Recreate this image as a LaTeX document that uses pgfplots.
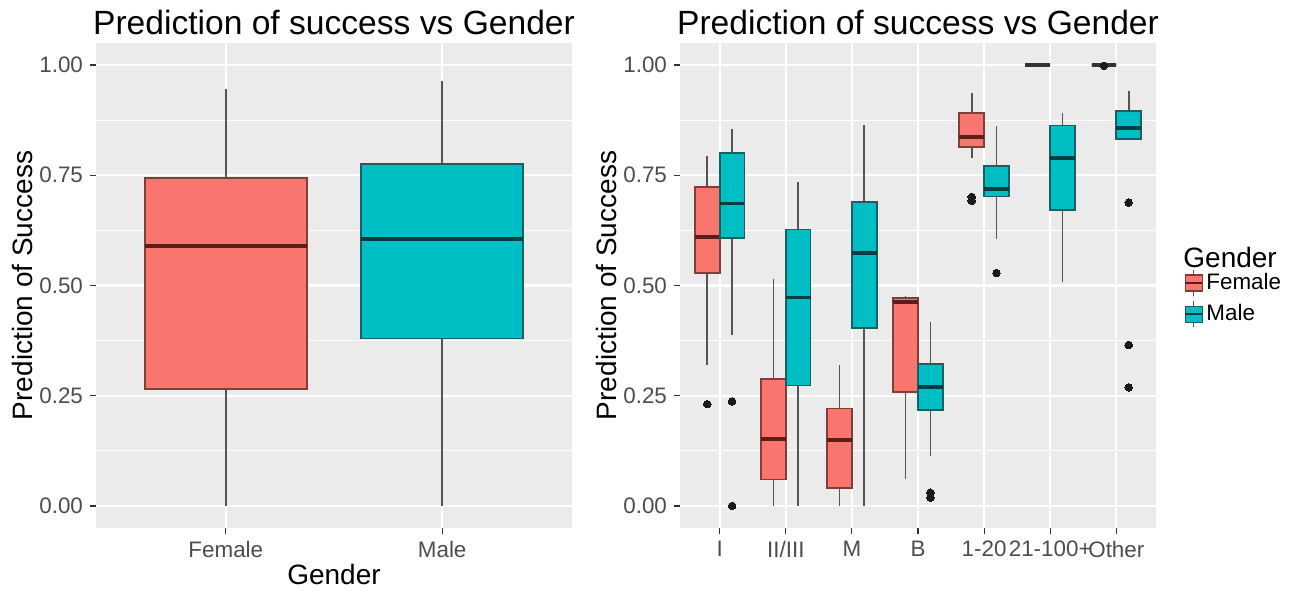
\documentclass[border=0pt]{standalone}
\usepackage{pgfplots}
\pgfplotsset{compat=1.18}
\usepgfplotslibrary{statistics}
\usepackage{fontspec}
\setmainfont{Liberation Sans}

\definecolor{cF}{HTML}{F8766D}
\definecolor{cM}{HTML}{00BFC4}
\definecolor{cFd}{HTML}{7E3F3A}
\definecolor{cMd}{HTML}{1F5E60}
\definecolor{cFm}{HTML}{5E1D19}
\definecolor{cMm}{HTML}{003F41}
\definecolor{panel}{HTML}{EBEBEB}
\definecolor{tickc}{HTML}{333333}
\definecolor{txtg}{HTML}{4D4D4D}
\definecolor{whc}{HTML}{555555}
\definecolor{dotc}{HTML}{1A1A1A}

\pgfplotsset{
  gg/.style={
    scale only axis, width=238pt, height=242.5pt,
    ymin=-0.05, ymax=1.05,
    ytick={0,0.25,0.5,0.75,1},
    minor ytick={0.125,0.375,0.625,0.875},
    /pgf/number format/assume math mode=true,
    yticklabel style={/pgf/number format/fixed, /pgf/number format/fixed zerofill,
      /pgf/number format/precision=2},
    axis background/.style={fill=panel},
    axis line style={draw=none},
    xmajorgrids, ymajorgrids, yminorgrids,
    major grid style={white, line width=1.1pt},
    minor grid style={white, line width=0.55pt},
    tick align=outside, tick pos=left,
    major tick length=3pt, minor tick length=0pt,
    tick style={color=tickc, line width=0.6pt},
    ticklabel style={font=\fontsize{11.2}{13}\selectfont, color=txtg},
    label style={font=\fontsize{14}{16}\selectfont, color=black},
    ylabel style={at={(axis description cs:-0.155,0.5)}, anchor=center},
    title style={font=\fontsize{16.8}{19}\selectfont, anchor=base, yshift=-2pt},
    ylabel={Prediction of Success},
    title={Prediction of success vs Gender},
    boxplot/draw direction=y,
  },
  fbox/.style={fill=cF, draw=cFd, line width=0.9pt, forget plot,
    mark=*, mark size=1.9pt, mark options={fill=dotc, draw=dotc, line width=0pt},
    boxplot/every median/.style={draw=cFm, line width=1.9pt},
    boxplot/every whisker/.style={draw=whc, line width=0.8pt},
    boxplot/whisker extend=0},
  mbox/.style={fill=cM, draw=cMd, line width=0.9pt, forget plot,
    mark=*, mark size=1.9pt, mark options={fill=dotc, draw=dotc, line width=0pt},
    boxplot/every median/.style={draw=cMm, line width=1.9pt},
    boxplot/every whisker/.style={draw=whc, line width=0.8pt},
    boxplot/whisker extend=0},
}

\begin{document}
\begin{tikzpicture}
\useasboundingbox (0pt,0pt) rectangle (652.5pt,295pt);

% left panel: all students
\begin{axis}[gg, at={(48pt,31pt)}, anchor=south west,
    xmin=0.4, xmax=2.6, xtick={1,2}, xticklabels={Female,Male},
    xlabel={Gender},
    xlabel style={at={(axis description cs:0.5,-0.1175)}, anchor=base}]
\addplot[fbox, boxplot prepared={draw position=1, box extend=0.75,
  lower whisker=0, lower quartile=0.266, median=0.590,
  upper quartile=0.743, upper whisker=0.946}] coordinates {};
\addplot[mbox, boxplot prepared={draw position=2, box extend=0.75,
  lower whisker=0, lower quartile=0.380, median=0.606,
  upper quartile=0.775, upper whisker=0.964}] coordinates {};
\end{axis}

% right panel: by group
\begin{axis}[gg, at={(340pt,31pt)}, anchor=south west,
    xmin=0.4, xmax=7.6, xtick={1,...,7},
    xticklabels={I,II/III,M,B,1-20,21-100+,Other},
    legend style={at={(axis description cs:1.058,0.473)}, anchor=west,
      draw=none, fill=none, inner sep=0pt, row sep=2pt,
      font=\fontsize{11.2}{13}\selectfont,
      nodes={inner sep=1.5pt}},
    legend cell align=left]
% I
\addplot[fbox, boxplot prepared={draw position=0.8125, box extend=0.375,
  lower whisker=0.320, lower quartile=0.529, median=0.610,
  upper quartile=0.723, upper whisker=0.793}] coordinates {(0,0.231)};
\addplot[mbox, boxplot prepared={draw position=1.1875, box extend=0.375,
  lower whisker=0.388, lower quartile=0.607, median=0.686,
  upper quartile=0.801, upper whisker=0.856}] coordinates {(0,0.237) (0,0.0)};
% II/III
\addplot[fbox, boxplot prepared={draw position=1.8125, box extend=0.375,
  lower whisker=0, lower quartile=0.060, median=0.152,
  upper quartile=0.288, upper whisker=0.514}] coordinates {};
\addplot[mbox, boxplot prepared={draw position=2.1875, box extend=0.375,
  lower whisker=0, lower quartile=0.273, median=0.473,
  upper quartile=0.627, upper whisker=0.735}] coordinates {};
% M
\addplot[fbox, boxplot prepared={draw position=2.8125, box extend=0.375,
  lower whisker=0, lower quartile=0.041, median=0.150,
  upper quartile=0.221, upper whisker=0.320}] coordinates {};
\addplot[mbox, boxplot prepared={draw position=3.1875, box extend=0.375,
  lower whisker=0, lower quartile=0.403, median=0.574,
  upper quartile=0.690, upper whisker=0.863}] coordinates {};
% B
\addplot[fbox, boxplot prepared={draw position=3.8125, box extend=0.375,
  lower whisker=0.062, lower quartile=0.258, median=0.463,
  upper quartile=0.471, upper whisker=0.476}] coordinates {};
\addplot[mbox, boxplot prepared={draw position=4.1875, box extend=0.375,
  lower whisker=0.113, lower quartile=0.218, median=0.270,
  upper quartile=0.322, upper whisker=0.418}] coordinates {(0,0.030) (0,0.019)};
% 1-20
\addplot[fbox, boxplot prepared={draw position=4.8125, box extend=0.375,
  lower whisker=0.790, lower quartile=0.814, median=0.837,
  upper quartile=0.892, upper whisker=0.937}] coordinates {(0,0.701) (0,0.692)};
\addplot[mbox, boxplot prepared={draw position=5.1875, box extend=0.375,
  lower whisker=0.605, lower quartile=0.702, median=0.718,
  upper quartile=0.771, upper whisker=0.861}] coordinates {(0,0.528)};
% 21-100+
\addplot[fbox, boxplot prepared={draw position=5.8125, box extend=0.375,
  lower whisker=1, lower quartile=1, median=1,
  upper quartile=1, upper whisker=1},
  boxplot/every median/.style={draw=black!80, line width=1.9pt}] coordinates {};
\addplot[mbox, boxplot prepared={draw position=6.1875, box extend=0.375,
  lower whisker=0.509, lower quartile=0.672, median=0.789,
  upper quartile=0.863, upper whisker=0.891}] coordinates {};
% Other
\addplot[fbox, boxplot prepared={draw position=6.8125, box extend=0.375,
  lower whisker=1, lower quartile=1, median=1,
  upper quartile=1, upper whisker=1},
  boxplot/every median/.style={draw=black!80, line width=1.9pt}] coordinates {(0,0.998)};
\addplot[mbox, boxplot prepared={draw position=7.1875, box extend=0.375,
  lower whisker=0.833, lower quartile=0.833, median=0.858,
  upper quartile=0.895, upper whisker=0.942}] coordinates {(0,0.688) (0,0.365) (0,0.269)};

\addlegendimage{legend image code/.code={
  \draw[whc, line width=0.7pt] (4.25pt,-6.5pt) -- (4.25pt,6.5pt);
  \draw[fill=cF, draw=cFd, line width=0.7pt] (0pt,-4pt) rectangle (8.5pt,4pt);
  \draw[cFm, line width=1.2pt] (0pt,0pt) -- (8.5pt,0pt);}}
\addlegendentry{Female}
\addlegendimage{legend image code/.code={
  \draw[whc, line width=0.7pt] (4.25pt,-6.5pt) -- (4.25pt,6.5pt);
  \draw[fill=cM, draw=cMd, line width=0.7pt] (0pt,-4pt) rectangle (8.5pt,4pt);
  \draw[cMm, line width=1.2pt] (0pt,0pt) -- (8.5pt,0pt);}}
\addlegendentry{Male}
\end{axis}

\node[anchor=base west, inner sep=0pt, font=\fontsize{14}{16}\selectfont] at (591.5pt,161.5pt) {Gender};
\end{tikzpicture}
\end{document}
